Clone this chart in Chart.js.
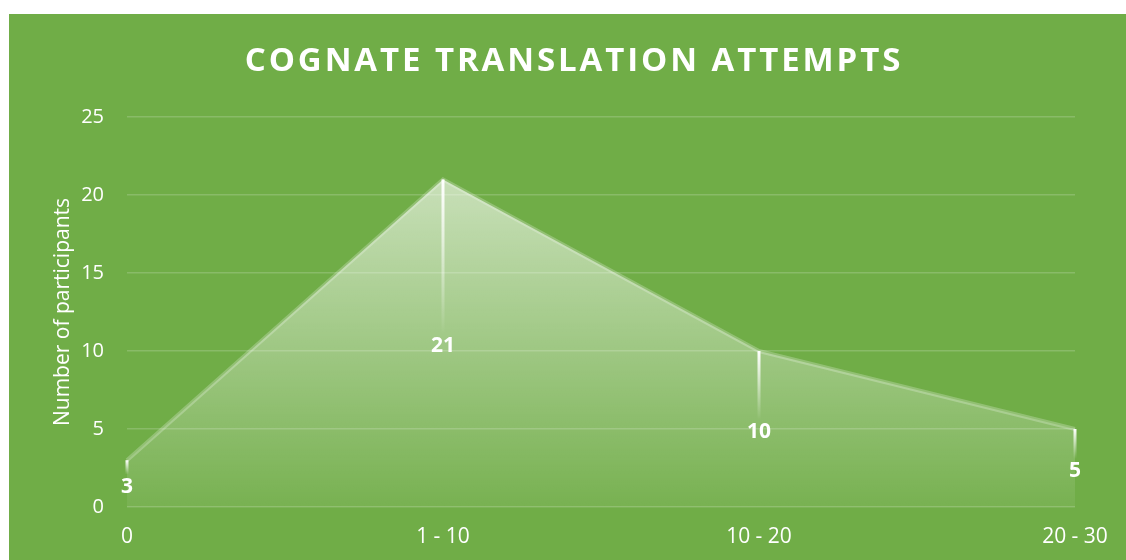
<!DOCTYPE html>
<html>
<head>
<meta charset="utf-8">
<script src="https://cdn.jsdelivr.net/npm/chart.js@4.4.1/dist/chart.umd.min.js"></script>
<style>
    html, body { margin: 0; padding: 0; background: #ffffff; }
    #wrap {
        position: absolute;
        left: 9px;
        top: 14px;
        width: 1117px;
        height: 546px;
        background: #70ad47;
    }
</style>
</head>
<body>
<div id="wrap"><canvas id="myChart" width="1117" height="546"></canvas></div>
<script>
// chart data
let categories = ["0", "1 - 10", "10 - 20", "20 - 30"];
let participants = [3, 21, 10, 5];
let yTicks = [0, 5, 10, 15, 20, 25];
let chartTitle = "COGNATE TRANSLATION ATTEMPTS";
let yAxisTitle = "Number of participants";

let fontFamily = "'Open Sans', 'DejaVu Sans', sans-serif";
let chartGraph;

// area fill: white fading towards the axis
function areaGradient(context) {
    let chart = context.chart;
    let yScale = chart.scales.y;
    if (!chart.chartArea || !yScale) {
        return "rgba(255,255,255,0.4)";
    }
    let top = yScale.getPixelForValue(Math.max(...participants));
    let bottom = yScale.getPixelForValue(0);
    if (!isFinite(top) || !isFinite(bottom)) {
        return "rgba(255,255,255,0.4)";
    }
    let g = chart.ctx.createLinearGradient(0, top, 0, bottom);
    g.addColorStop(0, "rgba(255,255,255,0.62)");
    g.addColorStop(1, "rgba(255,255,255,0.06)");
    return g;
}

// title with letter spacing
let titlePlugin = {
    id: "spacedTitle",
    afterDraw(chart) {
        let ctx = chart.ctx;
        ctx.save();
        ctx.fillStyle = "#ffffff";
        ctx.font = "bold 33px " + fontFamily;
        ctx.letterSpacing = "2.9px";
        ctx.textAlign = "center";
        ctx.textBaseline = "middle";
        ctx.fillText(chartTitle, 565, 48);
        ctx.restore();
    }
};

// leader lines and labels at half height of the area
let labelPlugin = {
    id: "areaLabels",
    afterDatasetsDraw(chart) {
        let ctx = chart.ctx;
        let yScale = chart.scales.y;
        let meta = chart.getDatasetMeta(0);
        ctx.save();
        meta.data.forEach((pt, i) => {
            let v = participants[i];
            let x = pt.x;
            let yTop = pt.y;
            let yLabel = yScale.getPixelForValue(v / 2) + 3;
            let yEnd = yLabel - 12;
            if (yEnd > yTop) {
                let g = ctx.createLinearGradient(0, yTop, 0, yEnd);
                g.addColorStop(0, "rgba(255,255,255,1)");
                g.addColorStop(1, "rgba(255,255,255,0)");
                ctx.strokeStyle = g;
                ctx.lineWidth = 3;
                ctx.beginPath();
                ctx.moveTo(x, yTop);
                ctx.lineTo(x, yEnd);
                ctx.stroke();
            }
            ctx.fillStyle = "#ffffff";
            ctx.font = "bold 21px " + fontFamily;
            ctx.textAlign = "center";
            ctx.textBaseline = "middle";
            ctx.fillText(String(v), x, yLabel);
        });
        ctx.restore();
    }
};

function initChart() {
    let ctx = document.getElementById("myChart").getContext("2d");
    chartGraph = new Chart(ctx, {
        type: "line",
        data: {
            labels: categories,
            datasets: [{
                data: participants,
                fill: "origin",
                backgroundColor: areaGradient,
                borderColor: "rgba(255,255,255,0.24)",
                borderWidth: 4,
                pointRadius: 0,
                tension: 0
            }]
        },
        options: {
            responsive: false,
            animation: false,
            layout: {
                padding: { top: 103, right: 51, left: 0, bottom: 0 }
            },
            plugins: {
                legend: { display: false },
                title: { display: false },
                tooltip: { enabled: false }
            },
            scales: {
                x: {
                    offset: false,
                    grid: { display: false, drawTicks: false },
                    border: { display: false },
                    ticks: {
                        color: "#ffffff",
                        padding: 17,
                        maxRotation: 0,
                        font: { family: fontFamily, size: 21 }
                    },
                    afterFit(scale) {
                        scale.height = 53;
                    }
                },
                y: {
                    min: 0,
                    max: 25,
                    afterBuildTicks(scale) {
                        scale.ticks = yTicks.map(v => ({ value: v }));
                    },
                    grid: {
                        color: "rgba(255,255,255,0.18)",
                        lineWidth: 1.5,
                        drawTicks: false
                    },
                    border: { display: false },
                    ticks: {
                        color: "#ffffff",
                        padding: 23,
                        font: { family: fontFamily, size: 20 }
                    },
                    title: {
                        display: true,
                        text: yAxisTitle,
                        color: "#ffffff",
                        padding: { top: 41, bottom: 0 },
                        font: { family: fontFamily, size: 21 }
                    },
                    afterFit(scale) {
                        scale.width = 118;
                    }
                }
            }
        },
        plugins: [titlePlugin, labelPlugin]
    });
}

initChart();
</script>
</body>
</html>
